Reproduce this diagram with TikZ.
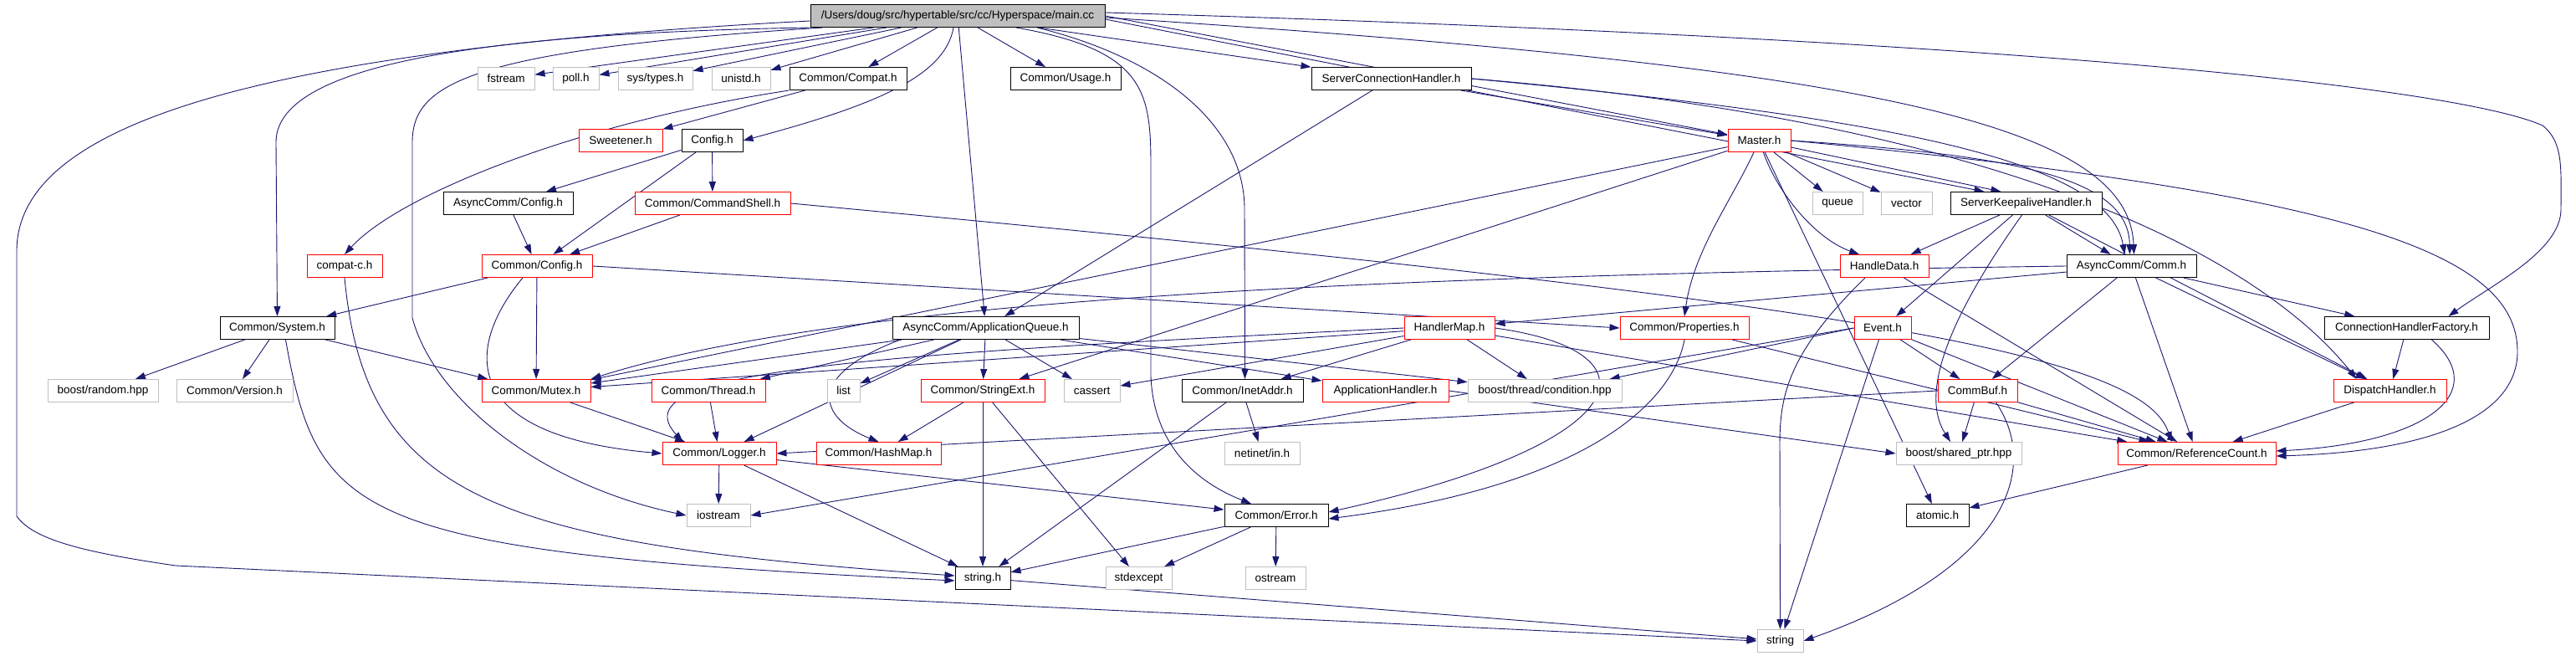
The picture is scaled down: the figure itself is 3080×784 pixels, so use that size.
\documentclass[tikz,border=0pt]{standalone}
\usepackage{fontspec}
\setmainfont{Liberation Sans}
\usetikzlibrary{arrows.meta}
\definecolor{edgec}{HTML}{191970}
\definecolor{sysgray}{HTML}{BFBFBF}
\definecolor{mainfill}{HTML}{BFBFBF}
\definecolor{redb}{HTML}{FF0000}
\pgfdeclarelayer{background}
\pgfsetlayers{background,main}
\tikzset{
  box/.style={draw, rectangle, fill=white, inner sep=0pt, minimum height=27pt, line width=1pt, font=\fontsize{13.5}{15}\selectfont},
  docbox/.style={box, draw=black},
  redbox/.style={box, draw=redb},
  sysbox/.style={box, draw=sysgray},
  mainbox/.style={box, draw=black, fill=mainfill},
  dep/.style={draw=edgec, line width=0.9pt, -{Triangle[length=12pt,width=8pt]}}
}
\newcommand{\dnode}[6]{\node[#5, minimum width={#3pt-#2pt}] (#1) at ({(#2+#3)/2},#4) {#6};}
\begin{document}
\begin{tikzpicture}[x=1pt,y=-1pt]
\useasboundingbox (0,0) rectangle (3080,784);
% row 0
\dnode{main}{969}{1321}{19}{mainbox}{/Users/doug/src/hypertable/src/cc/Hyperspace/main.cc}
% row 1
\dnode{fstream}{571}{639}{94}{sysbox}{fstream}
\dnode{poll}{661}{716}{94}{sysbox}{poll.h}
\dnode{systypes}{739}{828}{94}{sysbox}{sys/types.h}
\dnode{unistd}{851}{921}{94}{sysbox}{unistd.h}
\dnode{compat}{944}{1084}{94}{docbox}{Common/Compat.h}
\dnode{usage}{1208}{1340}{94}{docbox}{Common/Usage.h}
\dnode{sch}{1568}{1759}{94}{docbox}{ServerConnectionHandler.h}
% row 2
\dnode{sweet}{692}{792}{168}{redbox}{Sweetener.h}
\dnode{config}{815}{888}{168}{docbox}{Config.h}
\dnode{master}{2066}{2141}{168}{redbox}{Master.h}
% row 3
\dnode{acconfig}{530}{685}{243}{docbox}{AsyncComm/Config.h}
\dnode{cmdshell}{759}{945}{243}{redbox}{Common/CommandShell.h}
\dnode{queue}{2167}{2227}{243}{sysbox}{queue}
\dnode{vector}{2249}{2310}{243}{sysbox}{vector}
\dnode{skh}{2332}{2513}{243}{docbox}{ServerKeepaliveHandler.h}
% row 4
\dnode{compatc}{367}{457}{318}{redbox}{compat-c.h}
\dnode{cconfig}{576}{708}{318}{redbox}{Common/Config.h}
\dnode{handledata}{2200}{2306}{318}{redbox}{HandleData.h}
\dnode{comm}{2471}{2626}{318}{docbox}{AsyncComm/Comm.h}
% row 5
\dnode{system}{263}{400}{392}{docbox}{Common/System.h}
\dnode{appq}{1067}{1290}{392}{docbox}{AsyncComm/ApplicationQueue.h}
\dnode{handlermap}{1679}{1787}{392}{redbox}{HandlerMap.h}
\dnode{props}{1937}{2091}{392}{redbox}{Common/Properties.h}
\dnode{event}{2217}{2285}{392}{redbox}{Event.h}
\dnode{chf}{2779}{2976}{392}{docbox}{ConnectionHandlerFactory.h}
% row 6
\dnode{random}{57}{189}{467}{sysbox}{boost/random.hpp}
\dnode{version}{211}{350}{467}{sysbox}{Common/Version.h}
\dnode{mutex}{576}{706}{467}{redbox}{Common/Mutex.h}
\dnode{thread}{779}{915}{467}{redbox}{Common/Thread.h}
\dnode{list}{989}{1028}{467}{sysbox}{list}
\dnode{stringext}{1101}{1249}{467}{redbox}{Common/StringExt.h}
\dnode{cassert}{1272}{1339}{467}{sysbox}{cassert}
\dnode{inetaddr}{1413}{1558}{467}{docbox}{Common/InetAddr.h}
\dnode{apphandler}{1581}{1732}{467}{redbox}{ApplicationHandler.h}
\dnode{condition}{1755}{1939}{467}{sysbox}{boost/thread/condition.hpp}
\dnode{commbuf}{2317}{2412}{467}{redbox}{CommBuf.h}
\dnode{dispatch}{2790}{2925}{467}{redbox}{DispatchHandler.h}
% row 7
\dnode{logger}{792}{928}{542}{redbox}{Common/Logger.h}
\dnode{hashmap}{976}{1125}{542}{redbox}{Common/HashMap.h}
\dnode{netinet}{1464}{1554}{542}{sysbox}{netinet/in.h}
\dnode{sharedptr}{2267}{2417}{542}{sysbox}{boost/shared\_ptr.hpp}
\dnode{refcount}{2532}{2721}{542}{redbox}{Common/ReferenceCount.h}
% row 8
\dnode{iostream}{821}{897}{616}{sysbox}{iostream}
\dnode{error}{1464}{1588}{616}{docbox}{Common/Error.h}
\dnode{atomic}{2279}{2354}{616}{docbox}{atomic.h}
% row 9
\dnode{stringh}{1142}{1208}{691}{docbox}{string.h}
\dnode{stdexcept}{1322}{1401}{691}{sysbox}{stdexcept}
\dnode{ostream}{1489}{1561}{691}{sysbox}{ostream}
% row 10
\dnode{string}{2101}{2156}{766}{sysbox}{string}

\begin{pgfonlayer}{background}
\fill[white] (0,0) rectangle (3080,784);
% main.cc
\draw[dep] (main) -- (fstream);
\draw[dep] (main) -- (poll);
\draw[dep] (main) -- (systypes);
\draw[dep] (main) -- (unistd);
\draw[dep] (main) -- (compat);
\draw[dep] (main) -- (usage);
\draw[dep] (main) -- (sch);
\draw[dep] ([xshift=-5pt]main.south) .. controls (1130,90) and (1050,125) .. (config.east);
\draw[dep] (main.south west) .. controls (560,40) and (330,80) .. (330,170) -- (system.north);
\draw[dep] ([xshift=15pt]main.south west) .. controls (560,60) and (493,100) .. (493,170) -- (493,380) .. controls (520,480) and (650,580) .. (iostream.west);
\draw[dep] ([yshift=-6pt]main.west) .. controls (300,60) and (20,150) .. (20,300) -- (20,617) .. controls (40,645) and (100,660) .. (210,676) -- (string.west);
\draw[dep] (main) -- (appq);
\draw[dep] ([xshift=70pt]main.south) .. controls (1370,60) and (1376,110) .. (1376,200) -- (1376,450) .. controls (1380,540) and (1440,580) .. ([xshift=-30pt]error.north);
\draw[dep] ([xshift=95pt]main.south) .. controls (1390,70) and (1488,150) .. (1488,250) -- ([xshift=3pt]inetaddr.north);
\draw[dep] (main.east) -- (master);
\draw[dep] ([yshift=-4pt]main.east) -- ([xshift=-50pt]skh.north);
\draw[dep] ([yshift=-2pt]main.east) .. controls (2250,80) and (2545,150) .. ([xshift=3pt]comm.north);
\draw[dep] ([yshift=4pt]main.east) .. controls (2500,50) and (2950,110) .. (3040,150) .. controls (3065,170) and (3062,200) .. (3062,250) .. controls (3062,300) and (2980,340) .. ([xshift=50pt]chf.north);
% ServerConnectionHandler.h
\draw[dep] (sch) -- (master);
\draw[dep] (sch) -- (appq);
\draw[dep] (sch.east) .. controls (2250,140) and (2520,190) .. ([xshift=-8pt]comm.north);
\draw[dep] (sch.east) .. controls (2450,150) and (2720,330) .. ([xshift=-40pt]dispatch.north);
% Common/Compat.h
\draw[dep] (compat) -- (sweet);
\draw[dep] (compat.south west) .. controls (700,145) and (480,230) .. (compatc.north);
% Config.h
\draw[dep] (config) -- (acconfig);
\draw[dep] (config) -- (cmdshell);
\draw[dep] (config) -- (cconfig);
\draw[dep] (acconfig) -- (cconfig);
\draw[dep] (cmdshell) -- (cconfig);
\draw[dep] (cmdshell.east) .. controls (2200,360) and (2560,420) .. ([xshift=-30pt]refcount.north);
% Common/Config.h
\draw[dep] (cconfig) -- (system);
\draw[dep] (cconfig) -- (mutex);
\draw[dep] ([xshift=-17pt]cconfig.south) .. controls (560,410) and (540,520) .. (logger.west);
\draw[dep] (cconfig.east) -- (props.west);
% compat-c.h, Common/System.h
\draw[dep] (compatc.south) .. controls (437,600) and (600,650) .. ([yshift=3pt]stringh.west);
\draw[dep] (system) -- (random);
\draw[dep] (system) -- (version);
\draw[dep] (system) -- (mutex);
\draw[dep] ([xshift=10pt]system.south) .. controls (380,620) and (420,660) .. ([yshift=-3pt]stringh.west);
% Mutex, Thread, Logger
\draw[dep] (mutex) -- (logger);
\draw[dep] (thread) -- (logger);
\draw[dep] (logger) -- (iostream);
\draw[dep] (logger) -- (error);
\draw[dep] (logger) -- (stringh);
% AsyncComm/ApplicationQueue.h
\draw[dep] (appq) -- (mutex);
\draw[dep] (appq) -- (thread);
\draw[dep] (appq) -- (logger);
\draw[dep] (appq) -- (list);
\draw[dep] (appq) -- (stringext);
\draw[dep] (appq) -- (cassert);
\draw[dep] ([xshift=10pt]appq.south west) .. controls (960,450) and (980,500) .. (hashmap.north);
\draw[dep] (appq) -- (apphandler);
\draw[dep] (appq) -- (condition);
% StringExt, InetAddr, Error, string.h
\draw[dep] (stringext) -- (hashmap);
\draw[dep] (stringext) -- (stringh);
\draw[dep] (stringext) -- (stdexcept);
\draw[dep] (inetaddr) -- (netinet);
\draw[dep] (inetaddr) -- (stringh);
\draw[dep] (error) -- (stringh);
\draw[dep] (error) -- (stdexcept);
\draw[dep] (error) -- (ostream);
\draw[dep] (stringh) -- (string);
% Master.h
\draw[dep] (master) -- (mutex);
\draw[dep] (master) -- (stringext);
\draw[dep] (master) .. controls (2070,240) and (2025,300) .. (props.north);
\draw[dep] (master) .. controls (2125,230) and (2170,285) .. ([xshift=-30pt]handledata.north);
\draw[dep] (master) -- (queue);
\draw[dep] (master) -- (vector);
\draw[dep] (master) -- ([xshift=-30pt]skh.north);
\draw[dep] (master) -- (atomic);
\draw[dep] (master.east) .. controls (2400,185) and (2545,210) .. ([xshift=-2pt]comm.north);
\draw[dep] (master.east) .. controls (2800,230) and (3010,300) .. (3010,420) .. controls (3010,500) and (2900,540) .. ([yshift=-3pt]refcount.east);
% ServerKeepaliveHandler.h
\draw[dep] (skh) -- (handledata);
\draw[dep] (skh) -- (event);
\draw[dep] ([xshift=-5pt]skh.south) .. controls (2330,380) and (2295,470) .. ([xshift=-10pt]sharedptr.north);
\draw[dep] (skh) -- ([xshift=-25pt]comm.north);
\draw[dep] (skh) -- (dispatch);
% AsyncComm/Comm.h
\draw[dep] (comm) -- (handlermap);
\draw[dep] (comm.west) .. controls (1600,330) and (1000,360) .. (mutex.north east);
\draw[dep] (comm) -- (commbuf);
\draw[dep] (comm) -- (dispatch);
\draw[dep] (comm) -- (refcount);
\draw[dep] (comm) -- (chf);
% HandleData.h
\draw[dep] ([xshift=-23pt]handledata.south) .. controls (2140,420) and (2128,470) .. (2128,530) -- (string.north);
\draw[dep] (handledata) -- (refcount);
% Event.h
\draw[dep] (event) -- (commbuf);
\draw[dep] (event) -- ([xshift=5pt]string.north);
\draw[dep] (event) -- (refcount);
\draw[dep] (event.west) -- (iostream.east);
\draw[dep] (event.west) -- ([xshift=-15pt]condition.north east);
% CommBuf.h
\draw[dep] (commbuf.west) -- (logger.east);
\draw[dep] (commbuf) -- (sharedptr);
\draw[dep] (commbuf) -- (refcount);
\draw[dep] ([xshift=22pt]commbuf.south) .. controls (2440,560) and (2400,680) .. (string.east);
% ApplicationHandler.h
\draw[dep] (apphandler.east) -- (sharedptr.west);
% HandlerMap.h
\draw[dep] (handlermap) -- (mutex);
\draw[dep] (handlermap.west) .. controls (1000,425) and (740,445) .. ([xshift=25pt]logger.north west);
\draw[dep] (handlermap) -- (cassert);
\draw[dep] (handlermap) -- (inetaddr);
\draw[dep] (handlermap) -- (condition);
\draw[dep] (handlermap.east) .. controls (1990,420) and (1960,530) .. ([yshift=4pt]error.east);
\draw[dep] (handlermap) -- (refcount);
% Common/Properties.h
\draw[dep] (props.south) .. controls (2000,480) and (1900,580) .. ([yshift=-4pt]error.east);
\draw[dep] (props) -- (refcount);
% ConnectionHandlerFactory.h, DispatchHandler.h, ReferenceCount.h
\draw[dep] (chf) -- (dispatch);
\draw[dep] ([xshift=30pt]chf.south) .. controls (2980,470) and (2900,530) .. ([yshift=3pt]refcount.east);
\draw[dep] (dispatch) -- (refcount);
\draw[dep] (refcount) -- (atomic);
\end{pgfonlayer}
\end{tikzpicture}
\end{document}
